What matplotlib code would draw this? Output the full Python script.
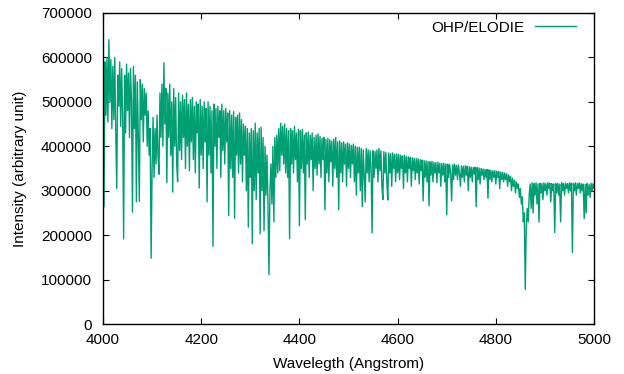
import numpy as np
import matplotlib
matplotlib.use('Agg')
import matplotlib.pyplot as plt

# Спектр OHP/ELODIE, значения (в тысячах), шаг 2 Å
wavelength_start = 4000
wavelength_step = 2
intensity_k = [
    480, 264, 590, 470, 600, 455, 640, 500, 595, 440,   # 4000
    580, 460, 600, 430, 305, 560, 490, 590, 445, 575,   # 4020
    470, 192, 560, 430, 585, 480, 565, 420, 575, 500,   # 4040
    252, 580, 440, 560, 275, 545, 420, 276, 550, 460,   # 4060
    540, 410, 530, 470, 520, 400, 480, 380, 440, 148,   # 4080
    350, 465, 330, 440, 360, 470, 380, 337, 520, 420,   # 4100
    540, 400, 588, 450, 530, 318, 520, 420, 540, 380,   # 4120
    500, 297, 530, 400, 510, 360, 320, 520, 390, 500,   # 4140
    370, 515, 420, 505, 350, 520, 400, 495, 345, 505,   # 4160
    410, 510, 370, 490, 340, 500, 430, 495, 306, 505,   # 4180
    380, 490, 350, 500, 410, 485, 275, 500, 380, 490,   # 4200
    340, 480, 175, 495, 400, 485, 350, 490, 420, 480,   # 4220
    330, 495, 390, 480, 360, 485, 410, 475, 244, 480,   # 4240
    350, 470, 330, 478, 238, 465, 380, 470, 340, 475,   # 4260
    360, 460, 320, 450, 380, 445, 300, 440, 218, 430,   # 4280
    330, 440, 181, 435, 300, 452, 280, 430, 340, 440,   # 4300
    203, 443, 300, 420, 210, 400, 290, 380, 270, 111,   # 4320
    300, 360, 270, 400, 230, 420, 330, 425, 340, 440,   # 4340
    345, 452, 380, 445, 360, 450, 340, 440, 330, 435,   # 4360
    192, 440, 360, 435, 340, 445, 370, 430, 320, 438,   # 4380
    221, 435, 350, 438, 340, 425, 235, 430, 360, 432,   # 4400
    330, 425, 370, 430, 300, 420, 350, 425, 335, 428,   # 4420
    360, 422, 330, 418, 370, 420, 257, 415, 340, 418,   # 4440
    320, 415, 365, 412, 310, 416, 350, 420, 330, 410,   # 4460
    257, 412, 340, 408, 320, 410, 360, 405, 310, 408,   # 4480
    350, 405, 330, 402, 360, 405, 320, 400, 290, 398,   # 4500
    340, 398, 300, 395, 264, 392, 330, 275, 395, 340,   # 4520
    392, 320, 390, 350, 205, 390, 330, 388, 350, 392,   # 4540
    320, 395, 345, 390, 310, 280, 388, 340, 386, 320,   # 4560
    279, 385, 340, 383, 310, 385, 350, 382, 320, 383,   # 4580
    340, 382, 325, 380, 350, 378, 305, 380, 340, 377,   # 4600
    320, 376, 350, 375, 310, 374, 345, 373, 325, 372,   # 4620
    340, 372, 315, 370, 345, 369, 277, 368, 330, 367,   # 4640
    320, 366, 266, 365, 335, 366, 320, 364, 340, 363,   # 4660
    318, 364, 340, 362, 310, 361, 335, 362, 320, 360,   # 4680
    246, 360, 330, 359, 340, 277, 358, 325, 360, 335,   # 4700
    357, 325, 358, 340, 310, 356, 330, 355, 320, 356,   # 4720
    335, 355, 300, 354, 330, 353, 320, 352, 338, 353,   # 4740
    264, 352, 325, 351, 315, 350, 335, 349, 325, 348,   # 4760
    330, 348, 283, 347, 325, 346, 320, 345, 330, 345,   # 4780
    315, 344, 330, 343, 305, 342, 325, 341, 320, 340,   # 4800
    325, 338, 310, 336, 320, 332, 300, 328, 310, 324,   # 4820
    295, 320, 305, 315, 285, 305, 270, 286, 230, 250,   # 4840
    78, 219, 260, 230, 290, 315, 260, 318, 250, 316,    # 4860
    290, 318, 270, 315, 229, 317, 295, 316, 280, 318,   # 4880
    300, 316, 290, 318, 305, 317, 275, 316, 300, 315,   # 4900
    206, 316, 295, 317, 290, 315, 230, 318, 300, 316,   # 4920
    290, 317, 305, 316, 295, 318, 300, 317, 161, 316,   # 4940
    300, 318, 290, 316, 305, 318, 295, 316, 300, 315,   # 4960
    237, 314, 250, 316, 290, 314, 285, 317, 300, 316,   # 4980
    305,                                                # 5000
]

intensity = np.array(intensity_k) * 1000
wavelength = wavelength_start + wavelength_step * np.arange(len(intensity))

x_ticks = [4000, 4200, 4400, 4600, 4800, 5000]
y_ticks = [0, 100000, 200000, 300000, 400000, 500000, 600000, 700000]

plt.rcParams['font.family'] = ['Liberation Sans', 'DejaVu Sans']
plt.rcParams['font.size'] = 11

fig = plt.figure(figsize=(6.24, 3.74), dpi=100)
ax = fig.add_axes([103 / 624, 50 / 374, 491 / 624, 311 / 374])
ax.plot(wavelength, intensity, color='#009e73', lw=1.0, label='OHP/ELODIE')

ax.set_xlim(4000, 5000)
ax.set_ylim(0, 700000)
ax.set_xticks(x_ticks)
ax.set_yticks(y_ticks)
ax.tick_params(direction='in', top=True, right=True, length=4, width=0.8)
ax.tick_params(axis='x', pad=6.5)
ax.tick_params(axis='y', pad=8)
for s in ax.spines.values():
    s.set_linewidth(1.0)

ax.set_xlabel('Wavelegth (Angstrom)', labelpad=7.5)
ax.set_ylabel('Intensity (arbitrary unit)', labelpad=10)

ax.legend(loc='upper right', bbox_to_anchor=(0.973, 0.99), frameon=False,
          markerfirst=False, handlelength=2.7, borderaxespad=0,
          handletextpad=0.7, borderpad=0.3)

fig.savefig('out.png', dpi=100)
